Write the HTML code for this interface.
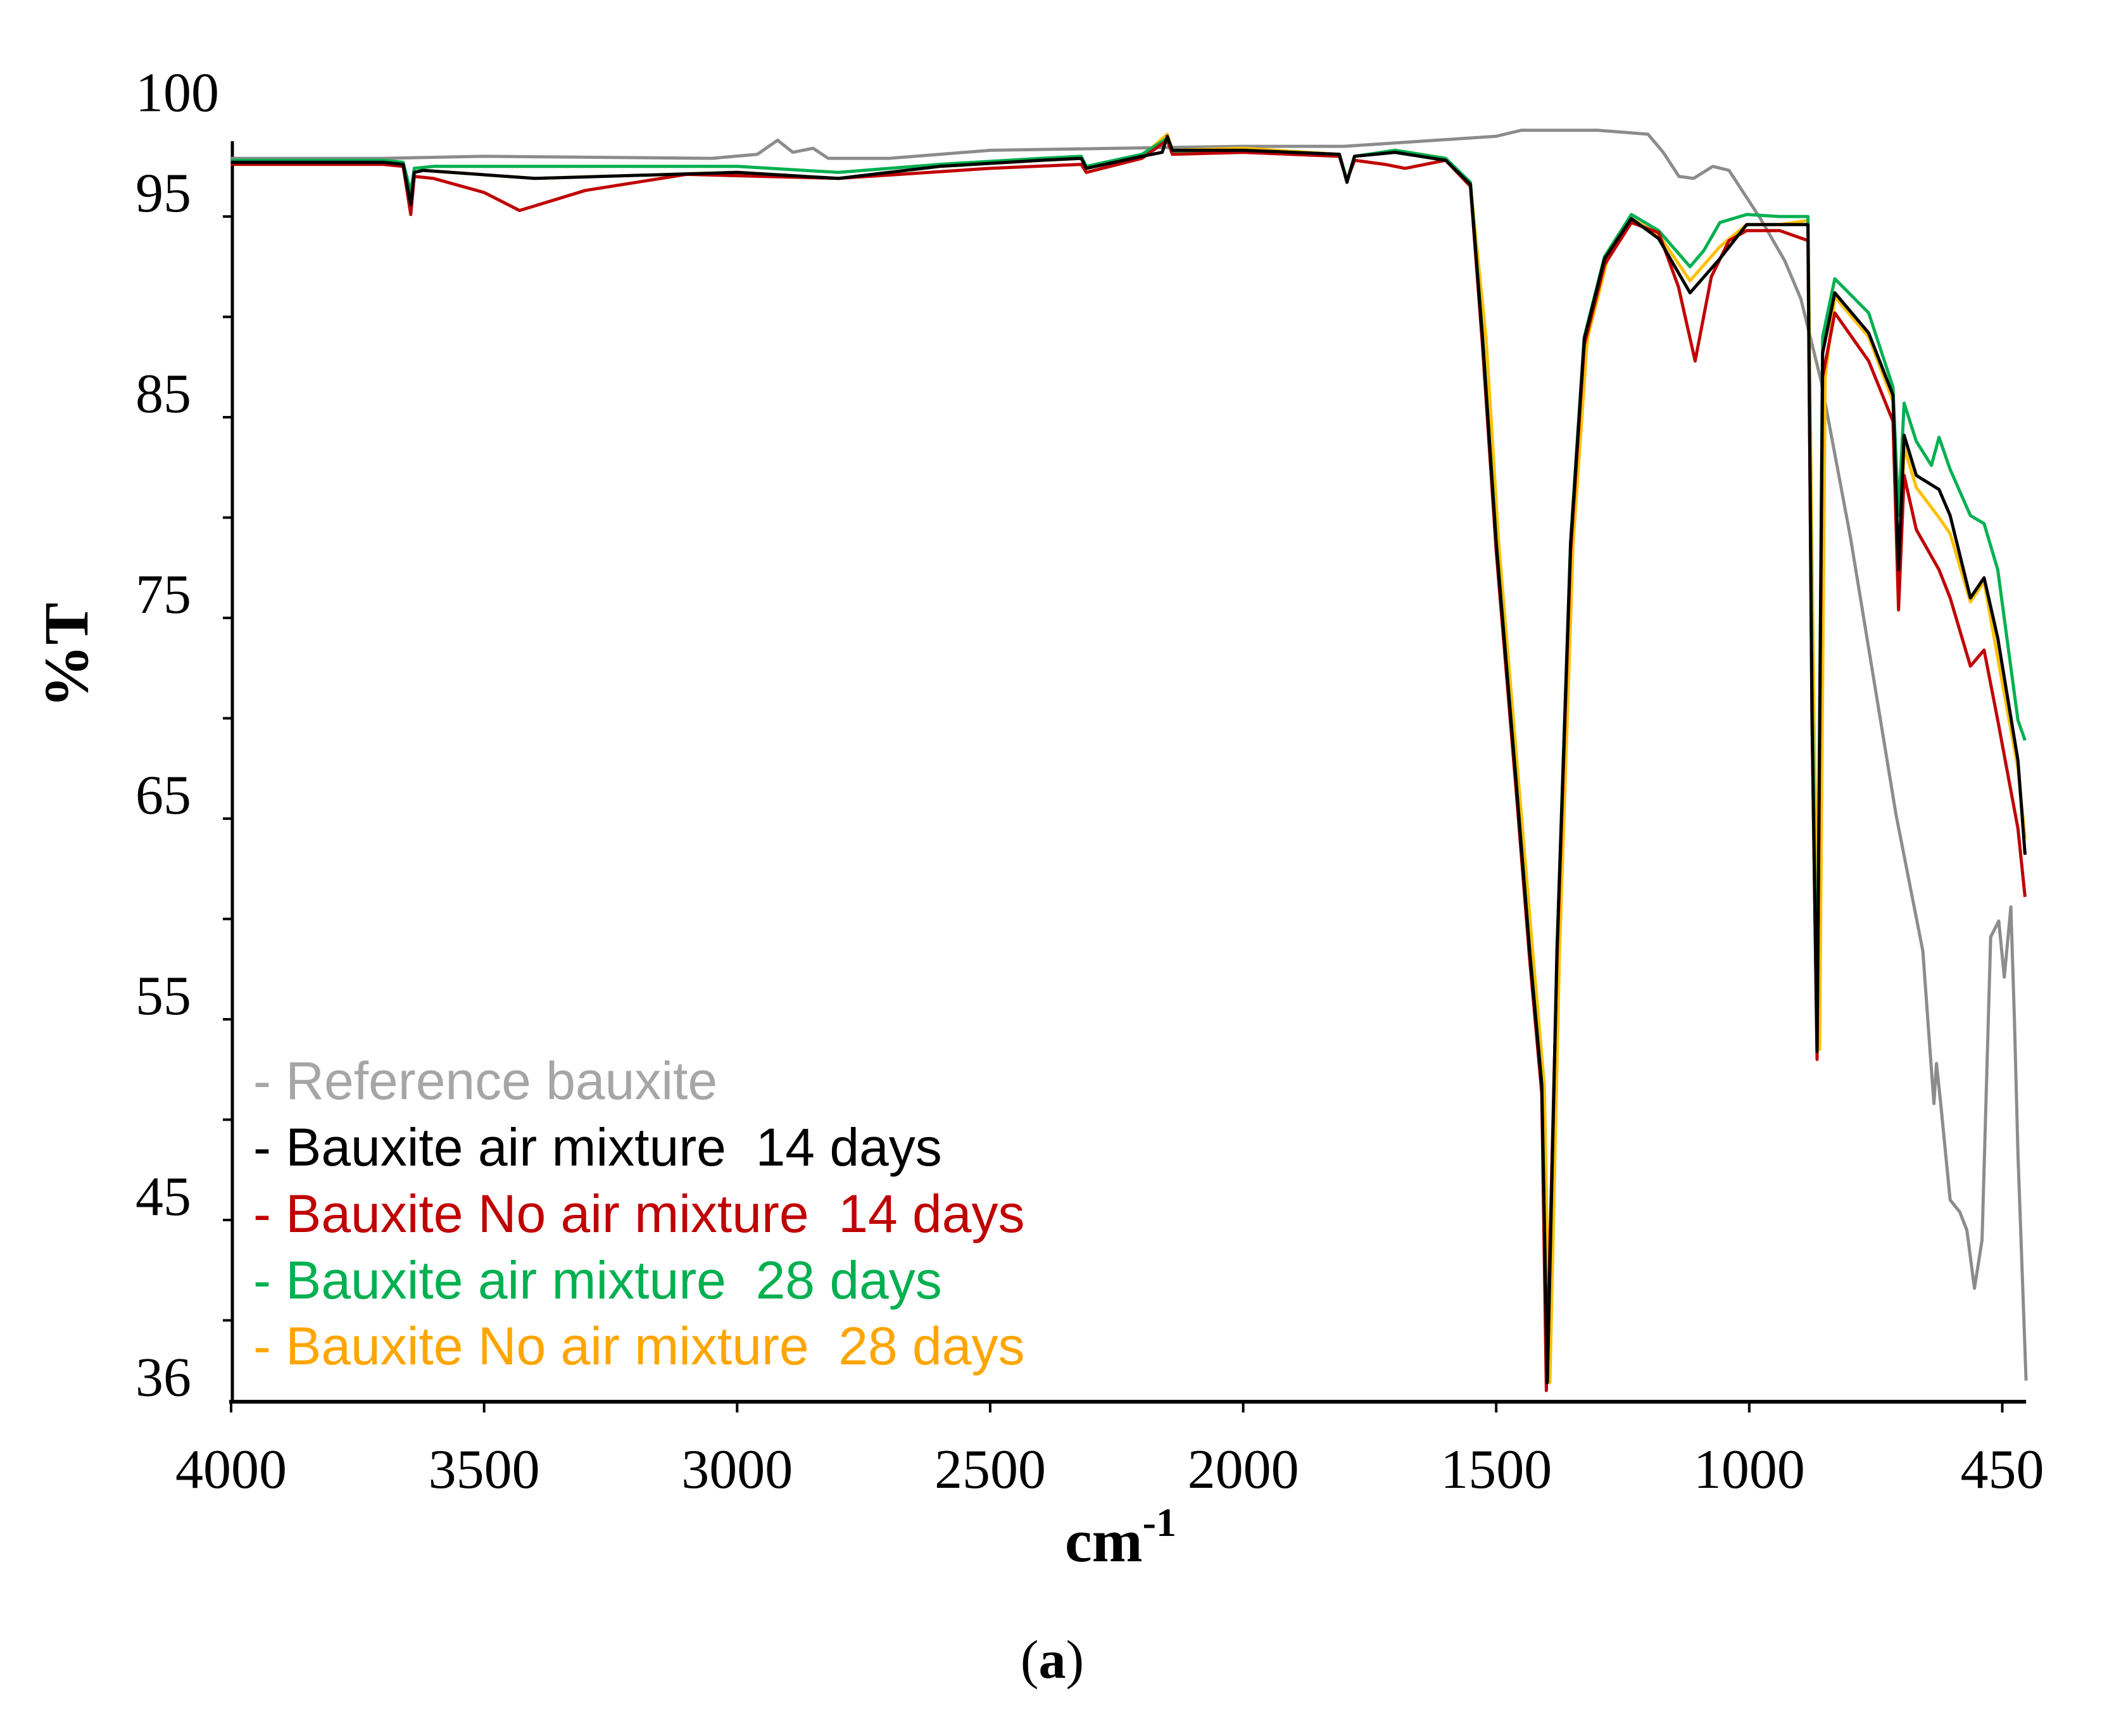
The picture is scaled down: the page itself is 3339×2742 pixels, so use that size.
<!DOCTYPE html>
<html><head><meta charset="utf-8"><style>
body{margin:0;background:#fff}
svg{display:block}
</style></head><body>
<svg id="chart" width="3339" height="2742" viewBox="0 0 3339 2742" xmlns="http://www.w3.org/2000/svg">
<g id="axes"></g>
<g id="series"></g>
<text x="0" y="0" transform="translate(138,1035) rotate(-90)" text-anchor="middle" font-family="Liberation Serif, serif" font-weight="bold" font-size="100">%T</text>
<text x="1770" y="2466" text-anchor="middle" font-family="Liberation Serif, serif" font-weight="bold" font-size="96">cm<tspan font-size="64" dy="-40">-1</tspan></text>
<text x="1662" y="2650" text-anchor="middle" font-family="Liberation Serif, serif" font-size="86">(<tspan font-weight="bold">a</tspan>)</text>
<g font-family="Liberation Sans, sans-serif" font-size="84">
<text x="400" y="1736" fill="#a6a6a6" xml:space="preserve">- Reference bauxite</text>
<text x="400" y="1841" fill="#000" xml:space="preserve">- Bauxite air mixture  14 days</text>
<text x="400" y="1946" fill="#c00000" xml:space="preserve">- Bauxite No air mixture  14 days</text>
<text x="400" y="2051" fill="#00b050" xml:space="preserve">- Bauxite air mixture  28 days</text>
<text x="400" y="2155" fill="#ffa500" xml:space="preserve">- Bauxite No air mixture  28 days</text>
</g>
</svg>
<script>
const xTicks=[4000,3500,3000,2500,2000,1500,1000,500];
const xTickLabels=["4000","3500","3000","2500","2000","1500","1000","450"];
const yTicks=[95,90,85,80,75,70,65,60,55,50,45,40];
const yLabelVals=[100,95,85,75,65,55,45,36];

const refX=[4000,3700,3500,3050,2960,2920,2890,2850,2820,2700,2500,2000,1800,1500,1450,1300,1200,1170,1139,1110,1072,1040,978,930,898,858,800,710,657,643,635,630,622,603,584,570,555,540,523,507,496,483,476,469,453];
const refY=[97.9,97.9,98.0,97.9,98.1,98.8,98.2,98.4,97.9,97.9,98.3,98.5,98.5,99.0,99.3,99.3,99.1,98.2,97.0,96.9,97.5,97.3,94.9,92.8,90.9,86.8,79.0,65.2,58.4,53.5,50.8,52.8,50.9,46.0,45.4,44.5,41.6,44.0,59.1,59.9,57.1,60.6,55,48.3,37.0];

const blkX=[4000,3700,3660,3645,3638,3620,3400,3000,2800,2600,2400,2320,2310,2200,2160,2150,2140,2000,1810,1795,1780,1700,1600,1551,1527,1500,1460,1434,1410,1399,1380,1353,1326,1286,1233,1179,1117,1058,1005,940,884,876,866,855,831,764,716,705,694,670,625,603,563,536,509,469,455];
const blkY=[97.7,97.7,97.6,95.6,97.2,97.3,96.9,97.2,96.9,97.5,97.8,97.9,97.4,98.0,98.2,99.0,98.3,98.3,98.1,96.7,98.0,98.2,97.8,96.6,88.9,78.7,66.6,58.4,51.7,36.9,58.4,78.7,88.9,92.9,94.9,93.9,91.2,92.9,94.6,94.6,94.6,70,53.4,88.2,91.2,89.2,86.1,77.4,84.1,82.1,81.4,80.1,76.0,77.0,74.0,67.9,63.2];

const redX=[4000,3700,3660,3645,3638,3600,3500,3430,3300,3100,2800,2500,2320,2310,2200,2150,2140,2000,1810,1795,1780,1720,1680,1600,1551,1527,1500,1460,1434,1410,1401,1380,1353,1326,1286,1233,1179,1140,1107,1075,1040,1005,940,884,876,866,855,831,764,716,705,694,670,625,603,563,536,509,469,455];
const redY=[97.6,97.6,97.5,95.1,97.0,96.9,96.2,95.3,96.3,97.1,96.9,97.4,97.6,97.2,97.9,98.8,98.1,98.2,98.0,96.8,97.8,97.6,97.4,97.8,96.5,88.5,78.3,66.2,58.0,51.3,36.5,58.0,78.3,88.6,92.6,94.7,94.2,91.5,87.8,92.0,93.8,94.3,94.3,93.8,70,53.0,87.0,90.2,87.8,84.8,75.4,82.1,79.4,77.4,76.0,72.6,73.4,69.9,64.5,61.1];

const grnX=[4000,3700,3660,3645,3638,3600,3000,2800,2600,2400,2320,2310,2200,2150,2140,2000,1810,1795,1780,1700,1600,1551,1527,1500,1460,1434,1410,1399,1380,1353,1326,1286,1233,1179,1117,1090,1058,1005,940,884,876,866,855,831,764,716,705,694,670,640,625,603,563,536,509,469,455];
const grnY=[97.8,97.8,97.7,96.2,97.4,97.5,97.5,97.2,97.6,97.9,98.0,97.5,98.1,98.9,98.2,98.3,98.1,96.8,98.0,98.3,97.9,96.7,89.0,78.8,66.7,58.5,51.8,37.0,58.5,78.8,89.0,93.0,95.1,94.3,92.5,93.3,94.7,95.1,95.0,95.0,72,54.0,89.0,91.9,90.2,86.5,80.1,85.7,83.8,82.6,84.0,82.4,80.1,79.7,77.4,69.9,68.9];

const orgX=[4000,3700,3660,3645,3638,3620,3400,3000,2800,2600,2400,2320,2310,2200,2150,2140,2000,1810,1795,1780,1700,1600,1551,1520,1495,1455,1428,1405,1394,1375,1348,1320,1280,1233,1179,1117,1058,1005,940,884,872,861,850,831,764,716,705,694,670,625,603,563,536,509,469,455];
const orgY=[97.7,97.7,97.6,95.8,97.2,97.3,96.9,97.2,96.9,97.5,97.8,97.9,97.4,98.0,99.1,98.3,98.4,98.1,96.8,98.0,98.3,97.9,96.6,88.9,78.7,66.6,58.4,51.7,36.9,58.4,78.7,88.9,92.9,94.9,94.1,91.8,93.5,94.6,94.6,94.8,70,53.5,87.0,91.0,89.0,85.8,76.5,83.5,81.5,80.0,79.2,75.8,76.8,73.0,67.5,64.0];

const X0=365, XS=0.7993, Y0=342, YS=31.7;
function xs(w){return X0+(4000-w)*XS;}
function ys(v){return Y0+(95-v)*YS;}
const NS='http://www.w3.org/2000/svg';
const axes=document.getElementById('axes');
const sg=document.getElementById('series');
function mk(tag,attrs,parent){const e=document.createElementNS(NS,tag);for(const k in attrs)e.setAttribute(k,attrs[k]);parent.appendChild(e);return e;}

const yAxis=mk('line',{x1:367,y1:223,x2:367,y2:2216,stroke:'#000','stroke-width':5},axes);


const xAxis=mk('line',{x1:362,y1:2214,x2:xs(453),y2:2214,stroke:'#000','stroke-width':6},axes);



yTicks.forEach(v=>{
  const t=mk('line',{x1:352,x2:367,y1:ys(v),y2:ys(v),stroke:'#000','stroke-width':4},axes);
  
  
});
yLabelVals.forEach(v=>{
  const t=mk('text',{x:214,y:ys(v)-8,'font-family':'Liberation Serif, serif','font-size':88},axes);
  
  
  t.textContent=String(v);
});
xTicks.forEach((w,i)=>{
  const t=mk('line',{x1:xs(w),x2:xs(w),y1:2214,y2:2231,stroke:'#000','stroke-width':4},axes);
  
  
  const l=mk('text',{x:xs(w),y:2350,'text-anchor':'middle','font-family':'Liberation Serif, serif','font-size':88},axes);
  
  
  l.textContent=xTickLabels[i];
});

function drawSeries(xArr,yArr,color,name){
  const d=xArr.map((w,i)=>(i?'L':'M')+xs(w).toFixed(1)+','+ys(yArr[i]).toFixed(1)).join('');
  const p=mk('path',{d:d,fill:'none',stroke:color,'stroke-width':5,'stroke-linejoin':'round'},sg);
  
  
}
drawSeries(refX,refY,'#8c8c8c','series-reference-bauxite');
drawSeries(orgX,orgY,'#ffc000','series-noair-28-days');
drawSeries(grnX,grnY,'#00b050','series-air-28-days');
drawSeries(redX,redY,'#c00000','series-noair-14-days');
drawSeries(blkX,blkY,'#000000','series-air-14-days');
</script>
</body></html>
